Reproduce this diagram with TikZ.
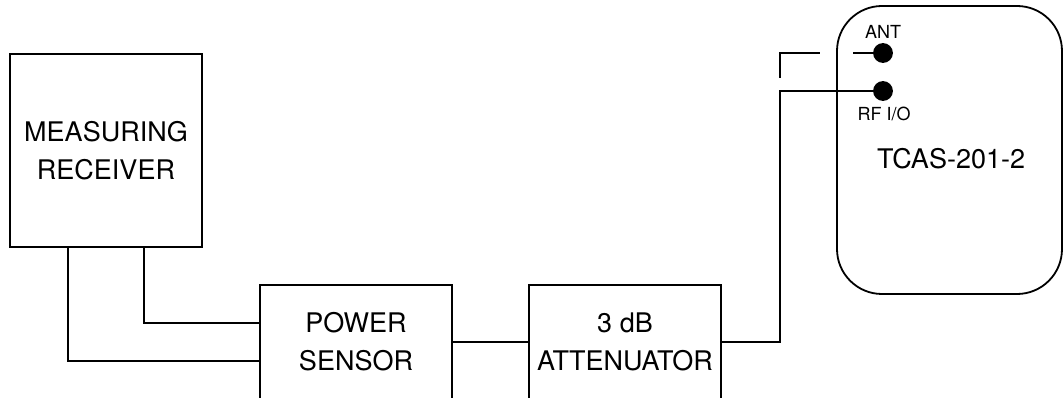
\documentclass[tikz,border=0pt]{standalone}
\usepackage{fontspec}
\setmainfont{TeX Gyre Heros}
\usetikzlibrary{positioning}

\begin{document}
\begin{tikzpicture}[x=1pt, y=-1pt, line width=1.8pt,
    block/.style={draw, rectangle, align=center, minimum width=192pt,
      font=\fontsize{27}{38}\selectfont},
    port/.style={draw, circle, fill=black, inner sep=0pt, minimum size=18pt},
    portlabel/.style={font=\fontsize{18}{21}\selectfont, anchor=base, inner sep=0pt},
    antline/.style={dash pattern=on 65pt off 33pt}]
  % Fix the picture size
  \useasboundingbox (0,0) rectangle (1063,398);

  % Draw the boxes
  \node[block, minimum height=193pt] (receiver) at (106,150.5) {MEASURING\\RECEIVER};
  \node[block, minimum height=114pt] (sensor) at (356,342) {POWER\\SENSOR};
  \node[block, minimum height=114pt] (atten) at (625,342) {3 dB\\ATTENUATOR};
  \node[draw, rounded corners=45pt, minimum width=225pt, minimum height=288pt] (tcas) at (949.5,150) {};
  \node[font=\fontsize{27}{38}\selectfont, anchor=base] (tcaslbl) at (951,169) {TCAS-201-2};

  % Ports on the unit
  \node[port] (ant) at (883,53) {};
  \node[port] (rfio) at (883,91) {};
  \node[portlabel] (antlbl) at (883,39) {ANT};
  \node[portlabel] (rfiolbl) at (884,121) {RF I/O};

  % Cables
  \draw ([xshift=-38pt]receiver.south) |- ([yshift=-19pt]sensor.west);
  \draw ([xshift=38pt]receiver.south) |- ([yshift=19pt]sensor.west);
  \draw (sensor) -- (atten);
  \draw (atten.east) -| ([xshift=-103pt]rfio.center) -- (rfio);
  \coordinate (antend) at (780,78);
  \draw[antline] (antend) |- (ant);
\end{tikzpicture}
\end{document}
